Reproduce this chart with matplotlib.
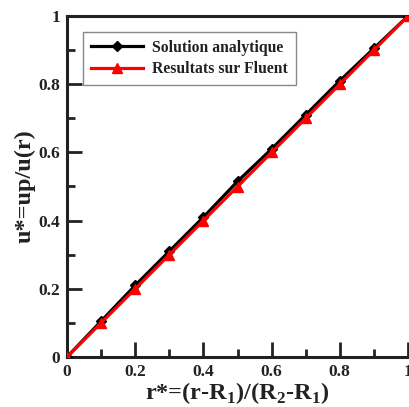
import matplotlib
matplotlib.use("Agg")
import matplotlib.pyplot as plt
from matplotlib.ticker import MultipleLocator, FuncFormatter

r_star = [0.0, 0.1, 0.2, 0.3, 0.4, 0.5, 0.6, 0.7, 0.8, 0.9, 1.0]
u_analytique = [0.0, 0.105, 0.21, 0.31, 0.41, 0.515, 0.61, 0.71, 0.81, 0.905, 1.0]
u_fluent = [0.0, 0.1, 0.2, 0.3, 0.4, 0.5, 0.6, 0.7, 0.8, 0.9, 1.0]

plt.rcParams['font.family'] = ['Liberation Serif', 'DejaVu Serif']
plt.rcParams['font.weight'] = 'bold'
plt.rcParams['mathtext.fontset'] = 'custom'
plt.rcParams['mathtext.rm'] = 'Liberation Serif:bold'
plt.rcParams['mathtext.bf'] = 'Liberation Serif:bold'

W, H = 409, 407
fig = plt.figure(figsize=(W / 100, H / 100), dpi=100)
ax = fig.add_axes([67 / W, (H - 357) / H, (408 - 67) / W, (357 - 16) / H])

ax.plot(r_star, u_analytique, color='black', lw=2.3, marker='D', ms=5.5,
        label='Solution analytique', zorder=3)
ax.plot(r_star, u_fluent, color='red', lw=2.3, marker='^', ms=7,
        label='Resultats sur Fluent', zorder=4)

ax.set_xlim(0, 1)
ax.set_ylim(0, 1)

for s in ['left', 'bottom', 'top']:
    ax.spines[s].set_linewidth(2.2)
    ax.spines[s].set_color('#222222')
ax.spines['right'].set_visible(False)

fmt = FuncFormatter(lambda v, p: '0' if abs(v) < 1e-9 else ('1' if abs(v - 1) < 1e-9 else f'{v:.1f}'))
for axis in (ax.xaxis, ax.yaxis):
    axis.set_major_locator(MultipleLocator(0.2))
    axis.set_minor_locator(MultipleLocator(0.1))
    axis.set_major_formatter(fmt)
ax.tick_params(which='major', direction='in', length=11, width=2, labelsize=12.5, pad=5,
               top=False, right=False, colors='#222222')
ax.tick_params(which='minor', direction='in', length=6, width=2, top=False, right=False,
               colors='#222222')
for lab in ax.get_xticklabels() + ax.get_yticklabels():
    lab.set_fontweight('bold')

ax.set_xlabel(r'r*=(r-R$_1$)/(R$_2$-R$_1$)', fontsize=17.5, fontweight='bold', labelpad=0,
              color='#222222')
ax.set_ylabel('u*=up/u(r)', fontsize=17.5, fontweight='bold', labelpad=2, color='#222222')

leg = ax.legend(loc='upper left', bbox_to_anchor=((83 - 67) / 341, (357 - 32) / 341),
                borderaxespad=0, fontsize=11.3,
                handlelength=3.3, borderpad=0.5, labelspacing=0.35, handletextpad=0.6,
                fancybox=False, edgecolor='#888888', framealpha=1)
leg.get_frame().set_linewidth(1)
for t in leg.get_texts():
    t.set_fontweight('bold')
    t.set_color('#222222')

fig.savefig('out.png', dpi=100)
